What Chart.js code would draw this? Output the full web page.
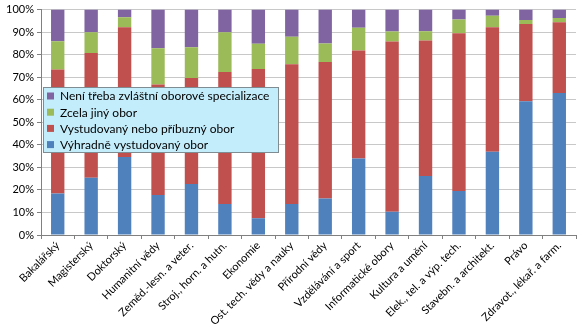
<!DOCTYPE html>
<html>
<head>
<meta charset="utf-8">
<script src="https://cdn.jsdelivr.net/npm/chart.js@4"></script>
<style>
  html, body { margin: 0; padding: 0; background: #fff; }
  #wrap { width: 580px; height: 333px; position: relative; }
</style>
</head>
<body>
<div id="wrap"><canvas id="chart"></canvas></div>
<script>
const categories = [
    'Bakalářský', 'Magisterský', 'Doktorský', 'Humanitní vědy',
    'Zeměd.-lesn. a veter.', 'Stroj., horn. a hutn.', 'Ekonomie',
    'Ost. tech. vědy a nauky', 'Přírodní vědy', 'Vzdělávání a sport',
    'Informatické obory', 'Kultura a umění', 'Elek., tel. a výp. tech.',
    'Stavebn. a architekt.', 'Právo', 'Zdravot., lékař. a farm.',
];

const vyhradne = [18.4, 25.4, 34.6, 17.7, 22.6, 13.7, 7.4, 13.7, 16.2, 33.9, 10.3, 26.2, 19.5, 36.9, 59.3, 63.0];
const pribuzny = [55.0, 55.4, 57.6, 49.1, 47.0, 58.6, 66.3, 62.0, 60.5, 48.0, 75.5, 60.1, 70.0, 55.3, 34.3, 31.4];
const jiny = [12.6, 9.2, 4.4, 16.1, 13.7, 17.7, 11.1, 12.3, 8.3, 10.0, 4.5, 4.1, 6.1, 5.1, 1.8, 1.9];
const neniTreba = [14.0, 10.0, 3.4, 17.1, 16.7, 10.0, 15.2, 12.0, 15.0, 8.1, 9.7, 9.6, 4.4, 2.7, 4.6, 3.7];

const yTicks = [0, 10, 20, 30, 40, 50, 60, 70, 80, 90, 100];

const FONT = 'Lato, "Open Sans", sans-serif';

// legend box drawn inside the plot, like the Excel original
const boxLegend = {
    id: 'boxLegend',
    afterDraw(chart) {
        const ctx = chart.ctx;
        const x = 43, y = 87, w = 235, h = 65;
        ctx.save();
        ctx.fillStyle = '#c4edfb';
        ctx.fillRect(x, y, w, h);
        ctx.strokeStyle = '#7f8c92';
        ctx.lineWidth = 1;
        ctx.strokeRect(x + 0.5, y + 0.5, w, h);
        ctx.font = '12px ' + FONT;
        ctx.textBaseline = 'middle';
        const items = chart.data.datasets.slice().reverse();
        items.forEach((ds, i) => {
            const cy = y + 9 + i * 16.2;
            ctx.fillStyle = ds.backgroundColor;
            ctx.fillRect(x + 4, cy - 3.5, 7, 7);
            ctx.fillStyle = '#000';
            ctx.fillText(ds.label, x + 17, cy + 0.5);
        });
        ctx.restore();
    },
};

new Chart(document.getElementById('chart'), {
    type: 'bar',
    data: {
        labels: categories,
        datasets: [
            { label: 'Výhradně vystudovaný obor', data: vyhradne, backgroundColor: '#4f81bd' },
            { label: 'Vystudovaný nebo příbuzný obor', data: pribuzny, backgroundColor: '#c0504d' },
            { label: 'Zcela jiný obor', data: jiny, backgroundColor: '#9bbb59' },
            { label: 'Není třeba zvláštní oborové specializace', data: neniTreba, backgroundColor: '#8064a2' },
        ],
    },
    options: {
        responsive: true,
        maintainAspectRatio: false,
        animation: false,
        layout: {
            padding: { top: 9, right: 4, left: 0, bottom: 0 },
        },
        datasets: {
            bar: {
                categoryPercentage: 1,
                barPercentage: 0.4,
                borderWidth: 0,
            },
        },
        plugins: {
            legend: { display: false },
            tooltip: { enabled: false },
        },
        scales: {
            x: {
                stacked: true,
                grid: {
                    offset: true,
                    drawOnChartArea: false,
                    tickLength: 4,
                    color: '#808080',
                },
                border: { color: '#808080' },
                ticks: {
                    minRotation: 45,
                    maxRotation: 45,
                    autoSkip: false,
                    color: '#000',
                    font: { family: FONT, size: 11 },
                    padding: 0,
                },
                afterFit(scale) { scale.height = 98; },
            },
            y: {
                stacked: true,
                min: 0,
                max: 100,
                afterBuildTicks(scale) {
                    scale.ticks = yTicks.map(v => ({ value: v }));
                },
                grid: {
                    color: '#c8c8c8',
                    tickLength: 4,
                    tickColor: '#808080',
                },
                border: { color: '#808080' },
                ticks: {
                    color: '#000',
                    font: { family: FONT, size: 11 },
                    padding: 3,
                    callback: v => v + '%',
                },
                afterFit(scale) { scale.width = 41; },
            },
        },
    },
    plugins: [boxLegend],
});
</script>
</body>
</html>
